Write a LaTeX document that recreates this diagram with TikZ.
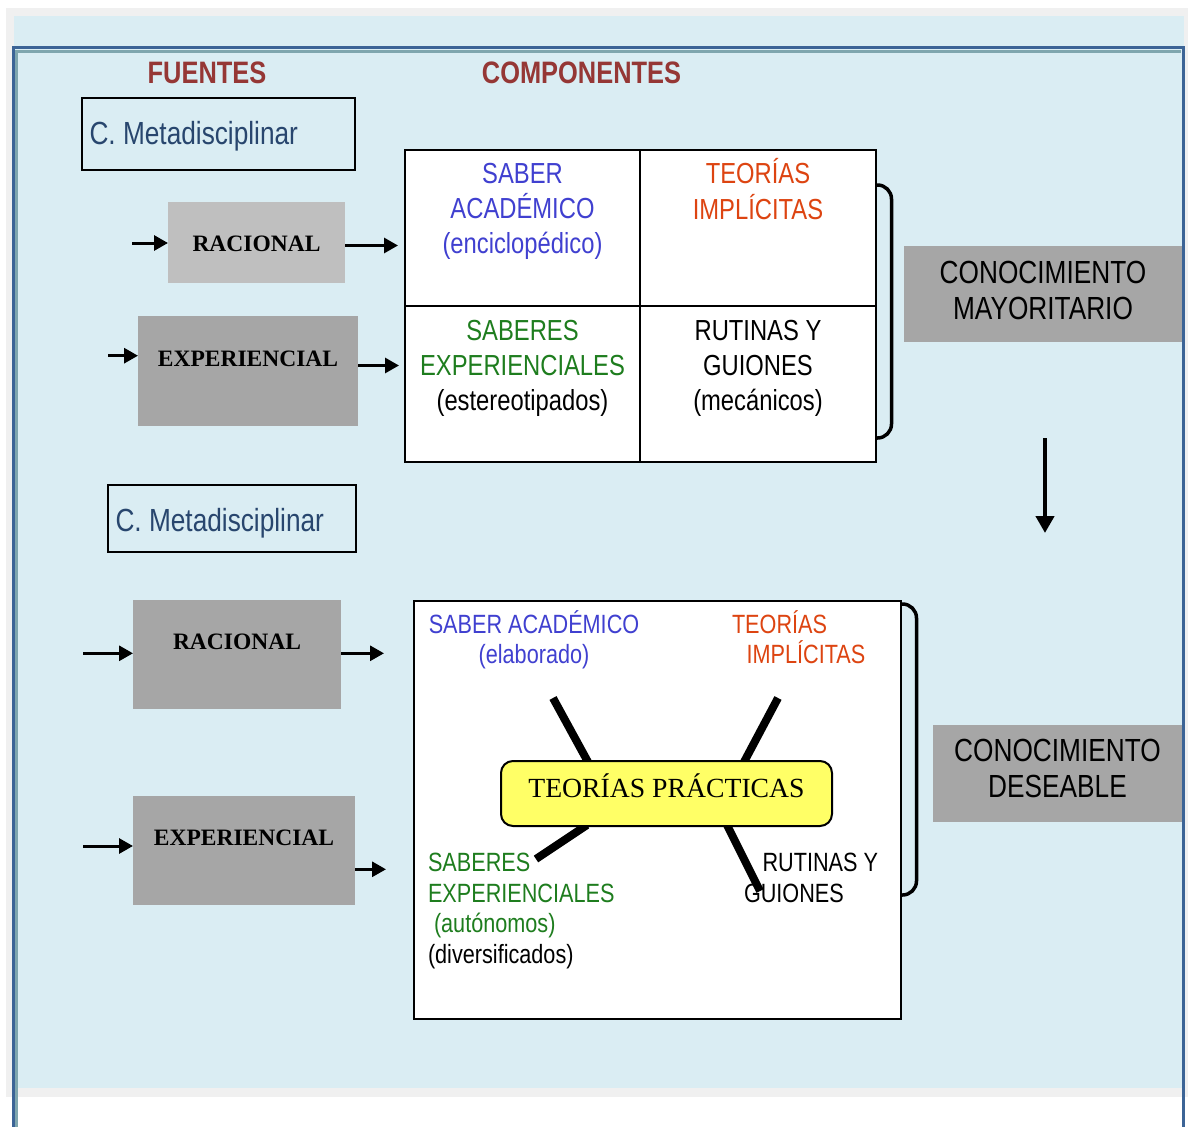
\documentclass[tikz,border=0pt]{standalone}
\usepackage{fontspec}
\setmainfont{Liberation Serif}
\newfontfamily\narrow[FakeStretch=0.82]{Liberation Sans}
\usetikzlibrary{arrows.meta,calc}

\definecolor{pagebg}{RGB}{218,237,243}
\definecolor{shellgray}{RGB}{240,240,240}
\definecolor{frameblue}{RGB}{60,100,150}
\definecolor{frameteal}{RGB}{127,166,174}
\definecolor{headred}{RGB}{149,55,53}
\definecolor{metablue}{RGB}{40,70,110}
\definecolor{acadblue}{RGB}{64,64,208}
\definecolor{implorange}{RGB}{221,68,17}
\definecolor{expgreen}{RGB}{30,125,30}
\definecolor{boxgray}{RGB}{166,166,166}
\definecolor{boxlight}{RGB}{191,191,191}
\definecolor{tpyellow}{RGB}{255,255,102}

\begin{document}
\begin{tikzpicture}[x=1pt,y=-1pt,
  every node/.style={inner sep=0pt, outer sep=0pt},
  head/.style={font=\narrow\bfseries\fontsize{31}{36}\selectfont, text=headred, anchor=base},
  metabox/.style={draw=black, line width=2.5pt},
  metatext/.style={font=\narrow\fontsize{32}{38}\selectfont, text=metablue, anchor=base west},
  srcbox/.style={fill=boxgray, font=\bfseries\fontsize{23.5}{28}\selectfont, text height=16pt},
  feed/.style={line width=3pt, -{Triangle[length=14pt,width=15pt]}},
  cell/.style={draw=black, line width=2pt, fill=white, minimum width=235.5pt, minimum height=156pt},
  celltext/.style={font=\narrow\fontsize{29}{35}\selectfont, align=center},
  result/.style={fill=boxgray, font=\narrow\fontsize{32}{36}\selectfont, align=center},
  lowtext/.style={font=\narrow\fontsize{26.4}{29.5}\selectfont},
  spoke/.style={line width=8pt},
  bracket/.style={line width=3.5pt, rounded corners=14pt},
  core/.style={draw=black, line width=2pt, fill=tpyellow, rounded corners=12pt,
    font=\fontsize{27.7}{32}\selectfont, minimum width=331pt, minimum height=65pt,
    text height=19pt, text depth=12pt}
]
% page and frame
\fill[white] (0,0) rectangle (1192,1127);
\useasboundingbox (0,0) rectangle (1192,1127);
\fill[shellgray] (6,8) rectangle (1188,1097);
\fill[pagebg] (14,16) rectangle (1184,1088);
\draw[frameteal, line width=3pt] (16.5,1127) -- (16.5,51.5) -- (1181,51.5);
\draw[frameblue, line width=3pt] (13.5,1127) -- (13.5,47) -- (1183.5,47) -- (1183.5,1127);

% headings
\node[head] (fuentes) at (207,83.3) {FUENTES};
\node[head] (componentes) at (581.5,83.3) {COMPONENTES};

% ---------- upper block ----------
\node[metabox, minimum width=273pt, minimum height=72pt] (meta1) at (218.5,134) {};
\node[metatext] (meta1t) at (89.5,144) {C. Metadisciplinar};

\node[srcbox, fill=boxlight, minimum width=177pt, minimum height=81pt, text height=26pt, text depth=9pt] (rac1) at (256.5,242.5) {RACIONAL};
\node[srcbox, minimum width=220pt, minimum height=110pt, text depth=24.6pt] (exp1) at (248,371) {EXPERIENCIAL};

\coordinate (in1) at (132,243);
\coordinate (out1) at (398,245.5);
\coordinate (in2) at (108,355.7);
\coordinate (out2) at (399,365.5);
\draw[feed] (in1) -- (rac1.west |- in1);
\draw[feed] (rac1.east |- out1) -- (out1);
\draw[feed] (in2) -- (exp1.west |- in2);
\draw[feed] (exp1.east |- out2) -- (out2);

\node[cell] (c11) at (522.5,228) {};
\node[cell] (c12) at (758,228) {};
\node[cell] (c21) at (522.5,384) {};
\node[cell] (c22) at (758,384) {};

\node[celltext, text=acadblue] (sa1) at (522.5,211.5) {SABER\\ACADÉMICO\\(enciclopédico)};
\node[celltext, text=implorange, font=\narrow\fontsize{29}{36}\selectfont] (ti1) at (758,189) {TEORÍAS\\IMPLÍCITAS};
\node[celltext] (se1) at (522.5,368) {\textcolor{expgreen}{SABERES}\\\textcolor{expgreen}{EXPERIENCIALES}\\(estereotipados)};
\node[celltext] (rg1) at (758,368) {RUTINAS Y\\GUIONES\\(mecánicos)};

\draw[bracket] (876,185) -- (891.5,185) -- (891.5,438) -- (876,438);

\node[result, minimum width=278pt, minimum height=96pt] (may) at (1043,294) {CONOCIMIENTO\\MAYORITARIO\rule[-7pt]{0pt}{7pt}};

\coordinate (d1) at (1045,438);
\coordinate (d2) at (1045,533);
\draw[line width=4.5pt, -{Triangle[length=17pt,width=18pt]}] (d1) -- (d2);

% ---------- lower block ----------
\node[metabox, minimum width=248pt, minimum height=67pt] (meta2) at (232,518.5) {};
\node[metatext] (meta2t) at (115.5,531) {C. Metadisciplinar};

\node[srcbox, minimum width=208pt, minimum height=109pt, text depth=26.4pt] (rac2) at (237,654.5) {RACIONAL};
\node[srcbox, minimum width=222pt, minimum height=109pt, text depth=27pt] (exp2) at (244,850.5) {EXPERIENCIAL};

\coordinate (in3) at (83,653.3);
\coordinate (out3) at (384,653.3);
\coordinate (in4) at (83,846);
\coordinate (out4) at (386,869.3);
\draw[feed] (in3) -- (rac2.west |- in3);
\draw[feed] (rac2.east |- out3) -- (out3);
\draw[feed] (in4) -- (exp2.west |- in4);
\draw[feed] (exp2.east |- out4) -- (out4);

\node[draw=black, line width=2pt, fill=white, minimum width=487pt, minimum height=418pt] (prac) at (657.5,810) {};
\draw[bracket] (901,604) -- (916.5,604) -- (916.5,895) -- (901,895);

\node[lowtext, text=acadblue, align=center] (sa2) at (534,639.6) {SABER ACADÉMICO\\(elaborado)};
\node[lowtext, text=implorange, align=left, anchor=west] (ti2) at (732,637.1) {TEORÍAS\\\hspace*{14.6pt}IMPLÍCITAS};
\node[lowtext, align=left, anchor=west, font=\narrow\fontsize{26.4}{30.5}\selectfont] (se2) at (428,911) {\textcolor{expgreen}{SABERES}\\\textcolor{expgreen}{EXPERIENCIALES}\\\hspace*{6pt}\textcolor{expgreen}{(autónomos)}\\(diversificados)};
\node[lowtext, align=left, anchor=west, font=\narrow\fontsize{26.4}{31}\selectfont] (rg2) at (744,877.6) {\hspace*{18.6pt}RUTINAS Y\\GUIONES};

% spokes joining the central theory to its four components
\coordinate (k1) at (553,698);
\coordinate (k2) at (778,698);
\coordinate (k3) at (536,859);
\coordinate (k4) at (760,891);
\coordinate (tpnw) at (501,761);
\coordinate (tpsw) at (501,826);
\draw[spoke] (k1) -- ($(tpnw)+(87,1)$);
\draw[spoke] (k2) -- ($(tpnw)+(243,1)$);
\draw[spoke] (k3) -- ($(tpsw)+(86,-1)$);
\draw[spoke] (k4) -- ($(tpsw)+(226,-1)$);

\node[core] (tp) at (666.5,793.5) {TEORÍAS PRÁCTICAS};

\node[result, minimum width=249pt, minimum height=97pt] (des) at (1057.5,773.5) {CONOCIMIENTO\\DESEABLE\rule[-10pt]{0pt}{10pt}};
\end{tikzpicture}
\end{document}
